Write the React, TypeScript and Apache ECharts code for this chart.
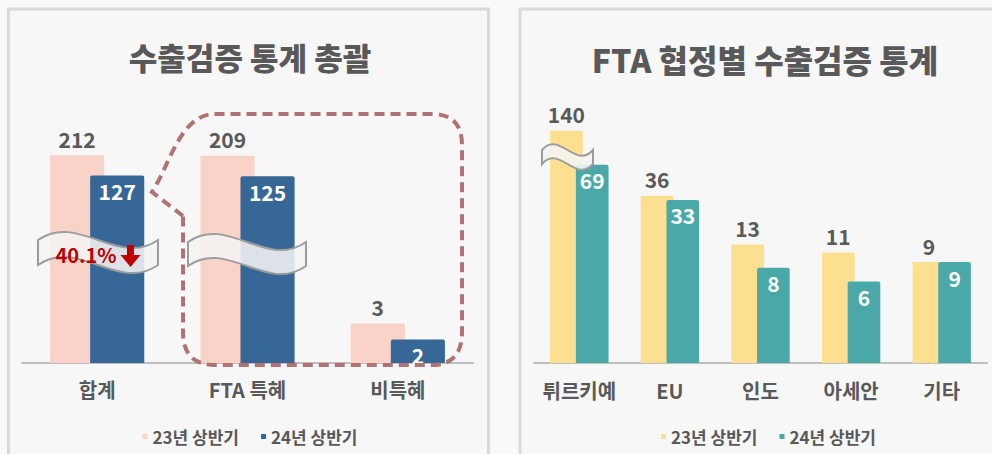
import React, { useEffect, useRef } from "react";
import * as echarts from "echarts";

const summaryCategories = ["합계", "FTA 특혜", "비특혜"];
const summary23 = [212, 209, 3];
const summary24 = [127, 125, 2];
const ftaCategories = ["튀르키예", "EU", "인도", "아세안", "기타"];
const fta23 = [140, 36, 13, 11, 9];
const fta24 = [69, 33, 8, 6, 9];
const seriesNames = ["23년 상반기", "24년 상반기"];
const leftTitle = "수출검증 통계 총괄";
const rightTitle = "FTA 협정별 수출검증 통계";
const changeLabel = "40.1%";

const FONT = '"Noto Sans CJK KR", "Noto Sans", sans-serif';
const TEXT = "#595959";

function wavePath(x: number, y: number, w: number, t: number, h: number) {
  return `M${x} ${y} C${x + w / 3} ${y - h} ${x + (2 * w) / 3} ${y + h} ${x + w} ${y} L${x + w} ${y + t} C${x + (2 * w) / 3} ${y + t + h} ${x + w / 3} ${y + t - h} ${x} ${y + t} Z`;
}

const calloutD =
  "M183 216 L152 192 C170 165 180 114 215 114 L432 114 Q462 114 462 145 L462 332 Q462 365 432 365 L215 365 Q183 365 183 332 Z";

echarts.graphic.registerShape("waveA", echarts.graphic.extendPath(wavePath(38, 240, 120, 25, 28), {}));
echarts.graphic.registerShape("waveB", echarts.graphic.extendPath(wavePath(188, 242, 118, 24, 28), {}));
echarts.graphic.registerShape("waveC", echarts.graphic.extendPath(wavePath(42, 150, 51, 14, 20), {}));
echarts.graphic.registerShape("callout", echarts.graphic.extendPath(calloutD, {}));

const waveStyle = { fill: "rgba(244,244,244,0.88)", stroke: "#9c9c9c", lineWidth: 2 };

function barSeries(name: string, data: number[], color: string, inside: boolean, gap: string, width: string) {
  return {
    type: "bar",
    name,
    data,
    barWidth: width,
    barGap: gap,
    clip: true,
    itemStyle: { color, borderRadius: inside ? [2, 2, 0, 0] : 0 },
    label: {
      show: true,
      position: inside ? "insideTop" : "top",
      distance: inside ? 5 : 6,
      color: inside ? "#ffffff" : TEXT,
      fontSize: 21,
      fontWeight: "bold",
      fontFamily: FONT,
    },
  };
}

function commonX(cats: string[], margin: number) {
  return {
    type: "category",
    data: cats,
    axisTick: { show: false },
    axisLine: { onZero: false, lineStyle: { color: "#bfbfbf", width: 2 } },
    axisLabel: { interval: 0, color: TEXT, fontSize: 20, fontWeight: "bold", fontFamily: FONT, margin },
  };
}

function legendOpt(left: any) {
  return {
    data: seriesNames,
    top: 423,
    left,
    icon: "rect",
    itemWidth: 5,
    itemHeight: 5,
    itemGap: 22,
    selectedMode: false,
    textStyle: { color: TEXT, fontSize: 17, fontWeight: "bold", fontFamily: FONT },
  };
}

function leftOption() {
  return {
    animation: false,
    textStyle: { fontFamily: FONT },
    title: {
      text: leftTitle,
      left: "center",
      top: 36,
      textStyle: { color: TEXT, fontSize: 31, fontWeight: 900, fontFamily: FONT },
    },
    legend: legendOpt("center"),
    grid: { left: 22, right: 27, top: 100, bottom: 91 },
    xAxis: commonX(summaryCategories, 16),
    yAxis: { type: "log", logBase: 10, min: 1.1, max: 860, show: false, splitLine: { show: false } },
    series: [
      barSeries(seriesNames[0], summary23, "#f9d3c7", false, "-26%", "36%"),
      barSeries(seriesNames[1], summary24, "#376797", true, "-26%", "36%"),
    ],
    graphic: [
      {
        type: "rect",
        z: -10,
        shape: { x: 8.5, y: 9, width: 480, height: 470 },
        style: { fill: "#f7f7f7", stroke: "#dadada", lineWidth: 3 },
      },
      { type: "waveA", z: 50, x: 0, y: 0, style: waveStyle },
      { type: "waveB", z: 50, x: 0, y: 0, style: waveStyle },
      {
        type: "callout",
        z: 60,
        x: 0,
        y: 0,
        style: { fill: "none", stroke: "#b07272", lineWidth: 4, lineDash: [10, 6] },
      },
      {
        type: "text",
        z: 70,
        x: 86,
        y: 254,
        style: {
          text: changeLabel,
          fill: "#c00000",
          fontSize: 20,
          fontWeight: "bold",
          fontFamily: FONT,
          textAlign: "center",
          textVerticalAlign: "middle",
        },
      },
      {
        type: "polygon",
        z: 70,
        shape: {
          points: [
            [127, 245],
            [134, 245],
            [134, 255],
            [140.5, 255],
            [130.5, 267],
            [120.5, 255],
            [127, 255],
          ],
        },
        style: { fill: "#c00000" },
      },
    ],
  };
}

function rightOption() {
  return {
    animation: false,
    textStyle: { fontFamily: FONT },
    title: {
      text: rightTitle,
      left: 260,
      top: 38,
      textAlign: "center",
      textStyle: { color: TEXT, fontSize: 32, fontWeight: 900, fontFamily: FONT },
    },
    legend: legendOpt(156),
    grid: { left: 34, right: 5, top: 100, bottom: 91 },
    xAxis: commonX(ftaCategories, 17),
    yAxis: { type: "log", logBase: 10, min: 1.09, max: 267, show: false, splitLine: { show: false } },
    series: [
      barSeries(seriesNames[0], fta23, "#fce08f", false, "-21%", "36%"),
      barSeries(seriesNames[1], fta24, "#4aa9a8", true, "-21%", "36%"),
    ],
    graphic: [
      {
        type: "rect",
        z: -10,
        shape: { x: 20, y: 9, width: 500, height: 470 },
        style: { fill: "#f7f7f7", stroke: "#dadada", lineWidth: 3 },
      },
      { type: "waveC", z: 50, x: 0, y: 0, style: waveStyle },
    ],
  };
}

export default function App() {
  const leftRef = useRef<HTMLDivElement>(null);
  const rightRef = useRef<HTMLDivElement>(null);
  useEffect(() => {
    const l = echarts.init(leftRef.current as HTMLDivElement, null, { renderer: "svg" });
    l.setOption(leftOption() as any);
    const r = echarts.init(rightRef.current as HTMLDivElement, null, { renderer: "svg" });
    r.setOption(rightOption() as any);
    return () => {
      l.dispose();
      r.dispose();
    };
  }, []);
  return (
    <div
      style={{
        position: "fixed",
        left: 0,
        top: 0,
        width: 992,
        height: 454,
        background: "#f9f9f9",
        overflow: "hidden",
      }}
    >
      <div ref={leftRef} style={{ position: "absolute", left: 0, top: 0, width: 500, height: 454 }} />
      <div ref={rightRef} style={{ position: "absolute", left: 500, top: 0, width: 492, height: 454 }} />
    </div>
  );
}
